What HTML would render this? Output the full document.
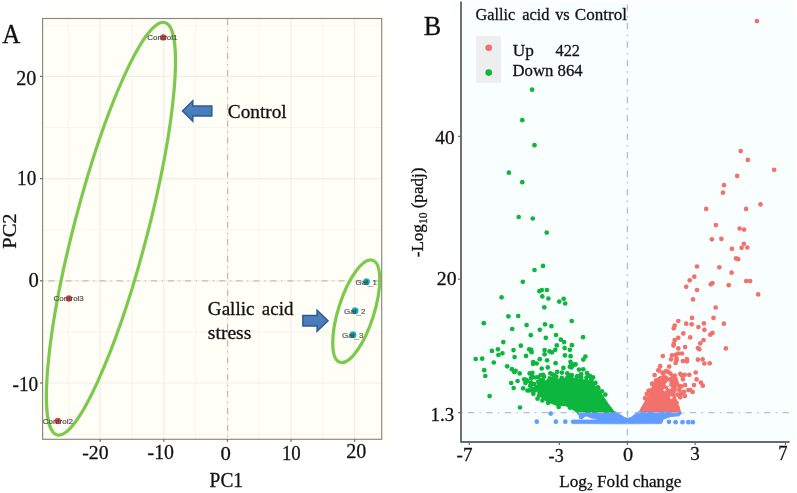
<!DOCTYPE html>
<html><head><meta charset="utf-8"><style>
html,body{margin:0;padding:0;background:#fff;width:797px;height:493px;overflow:hidden}
svg{display:block;filter:blur(0.3px)}
</style></head><body>
<svg width="797" height="493" viewBox="0 0 797 493">
<rect width="797" height="493" fill="#fff"/>
<rect x="35" y="11" width="354" height="436" fill="#FFFFFA"/>
<rect x="42.6" y="18.5" width="339.09999999999997" height="420.8" fill="#FFFEF7"/>
<line x1="68.40" y1="18.5" x2="68.40" y2="439.3" stroke="#F9F4EE" stroke-width="1"/>
<line x1="132.00" y1="18.5" x2="132.00" y2="439.3" stroke="#F9F4EE" stroke-width="1"/>
<line x1="195.60" y1="18.5" x2="195.60" y2="439.3" stroke="#F9F4EE" stroke-width="1"/>
<line x1="259.20" y1="18.5" x2="259.20" y2="439.3" stroke="#F9F4EE" stroke-width="1"/>
<line x1="322.80" y1="18.5" x2="322.80" y2="439.3" stroke="#F9F4EE" stroke-width="1"/>
<line x1="42.6" y1="25.30" x2="381.7" y2="25.30" stroke="#F9F4EE" stroke-width="1"/>
<line x1="42.6" y1="127.50" x2="381.7" y2="127.50" stroke="#F9F4EE" stroke-width="1"/>
<line x1="42.6" y1="229.70" x2="381.7" y2="229.70" stroke="#F9F4EE" stroke-width="1"/>
<line x1="42.6" y1="331.90" x2="381.7" y2="331.90" stroke="#F9F4EE" stroke-width="1"/>
<line x1="42.6" y1="434.10" x2="381.7" y2="434.10" stroke="#F9F4EE" stroke-width="1"/>
<line x1="100.20" y1="18.5" x2="100.20" y2="439.3" stroke="#F4EDE7" stroke-width="1.2"/>
<line x1="163.80" y1="18.5" x2="163.80" y2="439.3" stroke="#F4EDE7" stroke-width="1.2"/>
<line x1="227.40" y1="18.5" x2="227.40" y2="439.3" stroke="#F4EDE7" stroke-width="1.2"/>
<line x1="291.00" y1="18.5" x2="291.00" y2="439.3" stroke="#F4EDE7" stroke-width="1.2"/>
<line x1="354.60" y1="18.5" x2="354.60" y2="439.3" stroke="#F4EDE7" stroke-width="1.2"/>
<line x1="42.6" y1="76.40" x2="381.7" y2="76.40" stroke="#F4EDE7" stroke-width="1.2"/>
<line x1="42.6" y1="178.60" x2="381.7" y2="178.60" stroke="#F4EDE7" stroke-width="1.2"/>
<line x1="42.6" y1="280.80" x2="381.7" y2="280.80" stroke="#F4EDE7" stroke-width="1.2"/>
<line x1="42.6" y1="383.00" x2="381.7" y2="383.00" stroke="#F4EDE7" stroke-width="1.2"/>
<line x1="227.6" y1="18.5" x2="227.6" y2="439.3" stroke="#C4BDB7" stroke-width="1.3" stroke-dasharray="6 4.8 1.2 4.9" stroke-dashoffset="16.1"/>
<line x1="42.6" y1="280.80" x2="381.7" y2="280.80" stroke="#C4BDB7" stroke-width="1.3" stroke-dasharray="6.1 4.8 1.2 4.97" stroke-dashoffset="11.27"/>
<ellipse cx="110.95" cy="228.7" rx="36.64" ry="213.17" transform="rotate(14.65 110.95 228.7)" fill="none" stroke="#7DC94C" stroke-width="3.2"/>
<ellipse cx="356.23" cy="311.25" rx="17.76" ry="53.62" transform="rotate(17.71 356.23 311.25)" fill="none" stroke="#7DC94C" stroke-width="3.2"/>
<defs><radialGradient id="tg" cx="0.45" cy="0.55" r="0.6"><stop offset="0" stop-color="#0B7C83"/><stop offset="0.5" stop-color="#12A5AB"/><stop offset="1" stop-color="#1FC3C7"/></radialGradient></defs>
<circle cx="163.3" cy="37.4" r="3.2" fill="#E4484B"/>
<text x="162.4" y="40.3" text-anchor="middle" style="font-family:'Liberation Sans',sans-serif;font-size:8px" fill="#3C3C3C" stroke="#3C3C3C" stroke-width="0.2" opacity="0.9">Control1</text>
<circle cx="68.9" cy="298.5" r="3.2" fill="#E4484B"/>
<text x="68.7" y="301.4" text-anchor="middle" style="font-family:'Liberation Sans',sans-serif;font-size:8px" fill="#3C3C3C" stroke="#3C3C3C" stroke-width="0.2" opacity="0.9">Control3</text>
<circle cx="57.8" cy="420.9" r="3.2" fill="#E4484B"/>
<text x="57.8" y="423.79999999999995" text-anchor="middle" style="font-family:'Liberation Sans',sans-serif;font-size:8px" fill="#3C3C3C" stroke="#3C3C3C" stroke-width="0.2" opacity="0.9">Control2</text>
<circle cx="366.5" cy="281.8" r="3.5" fill="url(#tg)"/>
<text x="366.3" y="284.8" text-anchor="middle" style="font-family:'Liberation Sans',sans-serif;font-size:8px" fill="#4A4A4A" stroke="#4A4A4A" stroke-width="0.2" opacity="0.9">Gal_1</text>
<circle cx="355.05" cy="310.8" r="3.5" fill="url(#tg)"/>
<text x="354.8" y="313.8" text-anchor="middle" style="font-family:'Liberation Sans',sans-serif;font-size:8px" fill="#4A4A4A" stroke="#4A4A4A" stroke-width="0.2" opacity="0.9">Gal_2</text>
<circle cx="353" cy="334.8" r="3.5" fill="url(#tg)"/>
<text x="352.8" y="337.8" text-anchor="middle" style="font-family:'Liberation Sans',sans-serif;font-size:8px" fill="#4A4A4A" stroke="#4A4A4A" stroke-width="0.2" opacity="0.9">Gal_3</text>
<rect x="42.6" y="18.5" width="339.09999999999997" height="420.8" fill="none" stroke="#8A8580" stroke-width="1.15"/>
<line x1="100.20" y1="439.3" x2="100.20" y2="441.7" stroke="#6A6A6A" stroke-width="1.2"/>
<line x1="163.80" y1="439.3" x2="163.80" y2="441.7" stroke="#6A6A6A" stroke-width="1.2"/>
<line x1="227.40" y1="439.3" x2="227.40" y2="441.7" stroke="#6A6A6A" stroke-width="1.2"/>
<line x1="291.00" y1="439.3" x2="291.00" y2="441.7" stroke="#6A6A6A" stroke-width="1.2"/>
<line x1="354.60" y1="439.3" x2="354.60" y2="441.7" stroke="#6A6A6A" stroke-width="1.2"/>
<line x1="40.0" y1="76.40" x2="42.6" y2="76.40" stroke="#6A6A6A" stroke-width="1.2"/>
<line x1="40.0" y1="178.60" x2="42.6" y2="178.60" stroke="#6A6A6A" stroke-width="1.2"/>
<line x1="40.0" y1="280.80" x2="42.6" y2="280.80" stroke="#6A6A6A" stroke-width="1.2"/>
<line x1="40.0" y1="383.00" x2="42.6" y2="383.00" stroke="#6A6A6A" stroke-width="1.2"/>
<defs><linearGradient id="ag" x1="0" y1="0" x2="0" y2="1"><stop offset="0" stop-color="#4E84C2"/><stop offset="1" stop-color="#4677B4"/></linearGradient></defs>
<path d="M182.5,111.0 L192.8,100.8 L192.8,105.95 L211.8,105.95 L211.8,116.05 L192.8,116.05 L192.8,121.2 Z" fill="url(#ag)" stroke="#2C5A93" stroke-width="1.5"/>
<path d="M328,320.7 L317.1,310.2 L317.1,315.5 L302.9,315.5 L302.9,325.9 L317.1,325.9 L317.1,331.2 Z" fill="url(#ag)" stroke="#2C5A93" stroke-width="1.5"/>
<rect x="461.0" y="1.5" width="334.0" height="440.5" fill="#F9FEFF"/>
<polygon points="576.8,411.2 613.3,411.0 617.7,412.6 621.2,415.3 624.7,417.4 627.4,418.2 630.9,417.4 634.4,414.7 637.9,411.9 640.5,411.0 680.0,411.0 681.8,413.2 679.2,415.8 670.4,416.7 663.4,419.3 661.6,423.6 620.0,423.8 572.0,423.6 570.8,422.0 572.0,420.0 596.5,420.0 596.5,419.3 593.7,418.6 589.8,417.4 586.4,416.0 583.6,417.4 581.9,418.6 580.2,416.3 577.3,414.0" fill="#619CFF" stroke="#619CFF" stroke-width="0.8" stroke-linejoin="round"/>
<circle cx="550.7" cy="413.6" r="2.35" fill="#619CFF"/>
<circle cx="536.8" cy="421.7" r="2.35" fill="#619CFF"/>
<circle cx="555.9" cy="421.7" r="2.35" fill="#619CFF"/>
<circle cx="565.3" cy="421.7" r="2.35" fill="#619CFF"/>
<circle cx="669.0" cy="421.8" r="2.35" fill="#619CFF"/>
<circle cx="675.6" cy="422.2" r="2.35" fill="#619CFF"/>
<circle cx="682.5" cy="422.2" r="2.35" fill="#619CFF"/>
<circle cx="688.3" cy="422.2" r="2.35" fill="#619CFF"/>
<circle cx="692.8" cy="422.2" r="2.35" fill="#619CFF"/>
<circle cx="581.0" cy="417.0" r="2.35" fill="#619CFF"/>
<polygon points="538.5,384.5 546.0,381.0 553.8,380.0 562.0,378.8 568.5,378.3 578.3,379.2 588.1,380.8 594.6,385.7 601.1,393.8 607.7,403.6 612.6,410.1 613.7,411.8 576.7,411.8 571.8,408.5 565.3,405.3 557.1,405.3 548.9,402.0 542.0,397.5 538.0,393.0" fill="#0DB63C" stroke="#0DB63C" stroke-width="1.5" stroke-linejoin="round"/>
<circle cx="538.9" cy="383.0" r="2.35" fill="#0DB63C"/>
<circle cx="543.1" cy="380.9" r="2.35" fill="#0DB63C"/>
<circle cx="548.5" cy="381.0" r="2.35" fill="#0DB63C"/>
<circle cx="549.7" cy="378.4" r="2.35" fill="#0DB63C"/>
<circle cx="554.8" cy="379.6" r="2.35" fill="#0DB63C"/>
<circle cx="561.8" cy="377.9" r="2.35" fill="#0DB63C"/>
<circle cx="567.4" cy="377.4" r="2.35" fill="#0DB63C"/>
<circle cx="571.6" cy="378.6" r="2.35" fill="#0DB63C"/>
<circle cx="576.7" cy="376.9" r="2.35" fill="#0DB63C"/>
<circle cx="581.2" cy="377.8" r="2.35" fill="#0DB63C"/>
<circle cx="586.4" cy="380.8" r="2.35" fill="#0DB63C"/>
<circle cx="591.4" cy="381.6" r="2.35" fill="#0DB63C"/>
<circle cx="592.1" cy="384.3" r="2.35" fill="#0DB63C"/>
<circle cx="598.2" cy="388.6" r="2.35" fill="#0DB63C"/>
<circle cx="601.9" cy="391.3" r="2.35" fill="#0DB63C"/>
<circle cx="535.8" cy="389.8" r="2.35" fill="#0DB63C"/>
<circle cx="536.4" cy="387.0" r="2.35" fill="#0DB63C"/>
<circle cx="532.1" cy="89.7" r="2.35" fill="#0DB63C"/>
<circle cx="522.3" cy="120.2" r="2.35" fill="#0DB63C"/>
<circle cx="534.5" cy="145.2" r="2.35" fill="#0DB63C"/>
<circle cx="508.9" cy="172.7" r="2.35" fill="#0DB63C"/>
<circle cx="522.3" cy="182.2" r="2.35" fill="#0DB63C"/>
<circle cx="518.7" cy="217.0" r="2.35" fill="#0DB63C"/>
<circle cx="532.8" cy="218.5" r="2.35" fill="#0DB63C"/>
<circle cx="546.7" cy="232.6" r="2.35" fill="#0DB63C"/>
<circle cx="543.0" cy="265.9" r="2.35" fill="#0DB63C"/>
<circle cx="534.5" cy="270.0" r="2.35" fill="#0DB63C"/>
<circle cx="522.8" cy="281.8" r="2.35" fill="#0DB63C"/>
<circle cx="539.4" cy="291.2" r="2.35" fill="#0DB63C"/>
<circle cx="541.8" cy="290.0" r="2.35" fill="#0DB63C"/>
<circle cx="546.9" cy="290.0" r="2.35" fill="#0DB63C"/>
<circle cx="501.6" cy="297.3" r="2.35" fill="#0DB63C"/>
<circle cx="542.3" cy="296.4" r="2.35" fill="#0DB63C"/>
<circle cx="548.4" cy="298.5" r="2.35" fill="#0DB63C"/>
<circle cx="563.7" cy="298.8" r="2.35" fill="#0DB63C"/>
<circle cx="559.2" cy="301.6" r="2.35" fill="#0DB63C"/>
<circle cx="565.2" cy="303.5" r="2.35" fill="#0DB63C"/>
<circle cx="544.3" cy="307.3" r="2.35" fill="#0DB63C"/>
<circle cx="508.4" cy="316.3" r="2.35" fill="#0DB63C"/>
<circle cx="518.2" cy="316.0" r="2.35" fill="#0DB63C"/>
<circle cx="483.8" cy="323.2" r="2.35" fill="#0DB63C"/>
<circle cx="571.7" cy="321.0" r="2.35" fill="#0DB63C"/>
<circle cx="526.6" cy="325.1" r="2.35" fill="#0DB63C"/>
<circle cx="545.0" cy="324.3" r="2.35" fill="#0DB63C"/>
<circle cx="551.4" cy="326.2" r="2.35" fill="#0DB63C"/>
<circle cx="512.2" cy="329.0" r="2.35" fill="#0DB63C"/>
<circle cx="539.8" cy="329.8" r="2.35" fill="#0DB63C"/>
<circle cx="530.8" cy="335.2" r="2.35" fill="#0DB63C"/>
<circle cx="545.8" cy="337.8" r="2.35" fill="#0DB63C"/>
<circle cx="556.0" cy="335.0" r="2.35" fill="#0DB63C"/>
<circle cx="503.3" cy="342.1" r="2.35" fill="#0DB63C"/>
<circle cx="560.8" cy="339.7" r="2.35" fill="#0DB63C"/>
<circle cx="564.1" cy="342.1" r="2.35" fill="#0DB63C"/>
<circle cx="571.9" cy="345.2" r="2.35" fill="#0DB63C"/>
<circle cx="556.8" cy="345.4" r="2.35" fill="#0DB63C"/>
<circle cx="520.8" cy="345.7" r="2.35" fill="#0DB63C"/>
<circle cx="491.9" cy="350.9" r="2.35" fill="#0DB63C"/>
<circle cx="497.9" cy="349.3" r="2.35" fill="#0DB63C"/>
<circle cx="513.5" cy="350.1" r="2.35" fill="#0DB63C"/>
<circle cx="529.2" cy="349.4" r="2.35" fill="#0DB63C"/>
<circle cx="531.6" cy="352.2" r="2.35" fill="#0DB63C"/>
<circle cx="544.6" cy="350.1" r="2.35" fill="#0DB63C"/>
<circle cx="549.5" cy="351.4" r="2.35" fill="#0DB63C"/>
<circle cx="555.2" cy="349.8" r="2.35" fill="#0DB63C"/>
<circle cx="564.6" cy="348.1" r="2.35" fill="#0DB63C"/>
<circle cx="569.8" cy="349.8" r="2.35" fill="#0DB63C"/>
<circle cx="498.4" cy="355.0" r="2.35" fill="#0DB63C"/>
<circle cx="502.4" cy="353.3" r="2.35" fill="#0DB63C"/>
<circle cx="544.6" cy="354.3" r="2.35" fill="#0DB63C"/>
<circle cx="564.9" cy="355.4" r="2.35" fill="#0DB63C"/>
<circle cx="570.6" cy="356.2" r="2.35" fill="#0DB63C"/>
<circle cx="475.7" cy="359.0" r="2.35" fill="#0DB63C"/>
<circle cx="482.2" cy="358.7" r="2.35" fill="#0DB63C"/>
<circle cx="514.6" cy="357.1" r="2.35" fill="#0DB63C"/>
<circle cx="526.0" cy="355.9" r="2.35" fill="#0DB63C"/>
<circle cx="539.8" cy="359.2" r="2.35" fill="#0DB63C"/>
<circle cx="583.0" cy="337.2" r="2.35" fill="#0DB63C"/>
<circle cx="585.4" cy="356.5" r="2.35" fill="#0DB63C"/>
<circle cx="583.3" cy="359.6" r="2.35" fill="#0DB63C"/>
<circle cx="547.1" cy="360.3" r="2.35" fill="#0DB63C"/>
<circle cx="555.6" cy="363.2" r="2.35" fill="#0DB63C"/>
<circle cx="570.5" cy="361.8" r="2.35" fill="#0DB63C"/>
<circle cx="574.0" cy="364.6" r="2.35" fill="#0DB63C"/>
<circle cx="569.8" cy="366.7" r="2.35" fill="#0DB63C"/>
<circle cx="547.8" cy="367.4" r="2.35" fill="#0DB63C"/>
<circle cx="563.4" cy="367.9" r="2.35" fill="#0DB63C"/>
<circle cx="579.0" cy="369.6" r="2.35" fill="#0DB63C"/>
<circle cx="583.3" cy="369.3" r="2.35" fill="#0DB63C"/>
<circle cx="493.8" cy="362.5" r="2.35" fill="#0DB63C"/>
<circle cx="484.2" cy="370.2" r="2.35" fill="#0DB63C"/>
<circle cx="485.3" cy="376.0" r="2.35" fill="#0DB63C"/>
<circle cx="489.6" cy="396.1" r="2.35" fill="#0DB63C"/>
<circle cx="520.0" cy="407.5" r="2.35" fill="#0DB63C"/>
<circle cx="507.2" cy="366.3" r="2.35" fill="#0DB63C"/>
<circle cx="511.9" cy="369.2" r="2.35" fill="#0DB63C"/>
<circle cx="514.3" cy="372.0" r="2.35" fill="#0DB63C"/>
<circle cx="519.7" cy="373.4" r="2.35" fill="#0DB63C"/>
<circle cx="517.6" cy="381.0" r="2.35" fill="#0DB63C"/>
<circle cx="511.2" cy="383.0" r="2.35" fill="#0DB63C"/>
<circle cx="513.7" cy="388.0" r="2.35" fill="#0DB63C"/>
<circle cx="523.2" cy="388.3" r="2.35" fill="#0DB63C"/>
<circle cx="527.5" cy="390.5" r="2.35" fill="#0DB63C"/>
<circle cx="533.2" cy="362.1" r="2.35" fill="#0DB63C"/>
<circle cx="536.7" cy="363.5" r="2.35" fill="#0DB63C"/>
<circle cx="541.7" cy="368.5" r="2.35" fill="#0DB63C"/>
<circle cx="529.6" cy="373.4" r="2.35" fill="#0DB63C"/>
<circle cx="538.1" cy="377.0" r="2.35" fill="#0DB63C"/>
<circle cx="543.1" cy="374.8" r="2.35" fill="#0DB63C"/>
<circle cx="526.1" cy="379.8" r="2.35" fill="#0DB63C"/>
<circle cx="531.0" cy="382.7" r="2.35" fill="#0DB63C"/>
<circle cx="536.0" cy="388.3" r="2.35" fill="#0DB63C"/>
<circle cx="605.3" cy="394.6" r="2.35" fill="#0DB63C"/>
<circle cx="572.2" cy="366.0" r="2.35" fill="#0DB63C"/>
<circle cx="515.6" cy="370.8" r="2.35" fill="#0DB63C"/>
<circle cx="532.0" cy="376.3" r="2.35" fill="#0DB63C"/>
<circle cx="550.3" cy="373.3" r="2.35" fill="#0DB63C"/>
<circle cx="553.9" cy="375.1" r="2.35" fill="#0DB63C"/>
<circle cx="561.9" cy="372.6" r="2.35" fill="#0DB63C"/>
<circle cx="567.3" cy="373.3" r="2.35" fill="#0DB63C"/>
<circle cx="524.1" cy="379.3" r="2.35" fill="#0DB63C"/>
<circle cx="527.2" cy="381.2" r="2.35" fill="#0DB63C"/>
<circle cx="541.2" cy="380.0" r="2.35" fill="#0DB63C"/>
<circle cx="532.0" cy="384.2" r="2.35" fill="#0DB63C"/>
<circle cx="529.6" cy="390.3" r="2.35" fill="#0DB63C"/>
<circle cx="533.3" cy="391.5" r="2.35" fill="#0DB63C"/>
<circle cx="586.9" cy="373.1" r="2.35" fill="#0DB63C"/>
<circle cx="590.0" cy="376.2" r="2.35" fill="#0DB63C"/>
<circle cx="593.0" cy="377.4" r="2.35" fill="#0DB63C"/>
<circle cx="595.4" cy="382.9" r="2.35" fill="#0DB63C"/>
<circle cx="531.2" cy="349.8" r="2.35" fill="#0DB63C"/>
<circle cx="551.9" cy="352.3" r="2.35" fill="#0DB63C"/>
<circle cx="533.0" cy="363.8" r="2.35" fill="#0DB63C"/>
<circle cx="571.4" cy="364.4" r="2.35" fill="#0DB63C"/>
<circle cx="575.6" cy="364.4" r="2.35" fill="#0DB63C"/>
<circle cx="571.4" cy="367.5" r="2.35" fill="#0DB63C"/>
<circle cx="532.4" cy="372.9" r="2.35" fill="#0DB63C"/>
<circle cx="570.2" cy="375.4" r="2.35" fill="#0DB63C"/>
<circle cx="577.5" cy="376.0" r="2.35" fill="#0DB63C"/>
<circle cx="581.1" cy="374.2" r="2.35" fill="#0DB63C"/>
<circle cx="588.4" cy="375.4" r="2.35" fill="#0DB63C"/>
<circle cx="525.4" cy="382.9" r="2.35" fill="#0DB63C"/>
<circle cx="531.0" cy="378.3" r="2.35" fill="#0DB63C"/>
<circle cx="535.1" cy="377.5" r="2.35" fill="#0DB63C"/>
<circle cx="530.2" cy="385.7" r="2.35" fill="#0DB63C"/>
<circle cx="534.3" cy="384.0" r="2.35" fill="#0DB63C"/>
<circle cx="538.3" cy="381.6" r="2.35" fill="#0DB63C"/>
<circle cx="532.6" cy="388.9" r="2.35" fill="#0DB63C"/>
<circle cx="537.5" cy="388.9" r="2.35" fill="#0DB63C"/>
<circle cx="541.6" cy="387.3" r="2.35" fill="#0DB63C"/>
<circle cx="545.7" cy="385.7" r="2.35" fill="#0DB63C"/>
<circle cx="548.9" cy="382.4" r="2.35" fill="#0DB63C"/>
<circle cx="552.2" cy="379.2" r="2.35" fill="#0DB63C"/>
<circle cx="556.3" cy="376.7" r="2.35" fill="#0DB63C"/>
<circle cx="539.2" cy="395.5" r="2.35" fill="#0DB63C"/>
<circle cx="544.0" cy="393.8" r="2.35" fill="#0DB63C"/>
<circle cx="547.3" cy="397.1" r="2.35" fill="#0DB63C"/>
<circle cx="548.1" cy="402.8" r="2.35" fill="#0DB63C"/>
<circle cx="553.8" cy="398.7" r="2.35" fill="#0DB63C"/>
<circle cx="558.7" cy="406.9" r="2.35" fill="#0DB63C"/>
<circle cx="570.1" cy="407.7" r="2.35" fill="#0DB63C"/>
<circle cx="552.2" cy="374.3" r="2.35" fill="#0DB63C"/>
<circle cx="557.1" cy="371.8" r="2.35" fill="#0DB63C"/>
<circle cx="571.8" cy="375.1" r="2.35" fill="#0DB63C"/>
<circle cx="586.5" cy="377.5" r="2.35" fill="#0DB63C"/>
<circle cx="591.4" cy="379.2" r="2.35" fill="#0DB63C"/>
<circle cx="597.9" cy="387.3" r="2.35" fill="#0DB63C"/>
<circle cx="540.8" cy="375.1" r="2.35" fill="#0DB63C"/>
<circle cx="544.0" cy="376.7" r="2.35" fill="#0DB63C"/>
<circle cx="545.7" cy="390.6" r="2.35" fill="#0DB63C"/>
<circle cx="550.6" cy="388.9" r="2.35" fill="#0DB63C"/>
<circle cx="542.4" cy="400.4" r="2.35" fill="#0DB63C"/>
<circle cx="537.5" cy="398.7" r="2.35" fill="#0DB63C"/>
<circle cx="533.4" cy="393.8" r="2.35" fill="#0DB63C"/>
<polygon points="640.1,410.7 645.5,401.2 651.0,391.1 653.8,383.8 658.3,379.3 665.6,377.8 672.0,379.3 674.7,383.8 673.8,392.0 676.9,403.0 680.2,411.2" fill="#F2716B" stroke="#F2716B" stroke-width="1.5" stroke-linejoin="round"/>
<circle cx="645.1" cy="398.2" r="2.35" fill="#F2716B"/>
<circle cx="646.7" cy="394.0" r="2.35" fill="#F2716B"/>
<circle cx="648.5" cy="390.8" r="2.35" fill="#F2716B"/>
<circle cx="650.2" cy="390.7" r="2.35" fill="#F2716B"/>
<circle cx="652.3" cy="383.5" r="2.35" fill="#F2716B"/>
<circle cx="658.0" cy="379.9" r="2.35" fill="#F2716B"/>
<circle cx="660.0" cy="378.7" r="2.35" fill="#F2716B"/>
<circle cx="663.7" cy="376.9" r="2.35" fill="#F2716B"/>
<circle cx="665.7" cy="377.7" r="2.35" fill="#F2716B"/>
<circle cx="674.8" cy="379.4" r="2.35" fill="#F2716B"/>
<circle cx="674.4" cy="386.9" r="2.35" fill="#F2716B"/>
<circle cx="673.8" cy="391.2" r="2.35" fill="#F2716B"/>
<circle cx="756.9" cy="21.1" r="2.35" fill="#F2716B"/>
<circle cx="740.7" cy="151.1" r="2.35" fill="#F2716B"/>
<circle cx="747.8" cy="159.9" r="2.35" fill="#F2716B"/>
<circle cx="774.1" cy="169.8" r="2.35" fill="#F2716B"/>
<circle cx="737.2" cy="175.9" r="2.35" fill="#F2716B"/>
<circle cx="724.0" cy="185.2" r="2.35" fill="#F2716B"/>
<circle cx="723.0" cy="192.7" r="2.35" fill="#F2716B"/>
<circle cx="706.2" cy="208.9" r="2.35" fill="#F2716B"/>
<circle cx="746.1" cy="208.9" r="2.35" fill="#F2716B"/>
<circle cx="760.5" cy="204.4" r="2.35" fill="#F2716B"/>
<circle cx="715.9" cy="225.1" r="2.35" fill="#F2716B"/>
<circle cx="739.6" cy="228.5" r="2.35" fill="#F2716B"/>
<circle cx="744.1" cy="229.6" r="2.35" fill="#F2716B"/>
<circle cx="711.9" cy="239.3" r="2.35" fill="#F2716B"/>
<circle cx="721.4" cy="238.9" r="2.35" fill="#F2716B"/>
<circle cx="743.8" cy="243.8" r="2.35" fill="#F2716B"/>
<circle cx="741.6" cy="247.8" r="2.35" fill="#F2716B"/>
<circle cx="747.3" cy="247.5" r="2.35" fill="#F2716B"/>
<circle cx="731.9" cy="248.8" r="2.35" fill="#F2716B"/>
<circle cx="736.0" cy="258.4" r="2.35" fill="#F2716B"/>
<circle cx="738.1" cy="259.2" r="2.35" fill="#F2716B"/>
<circle cx="697.0" cy="266.5" r="2.35" fill="#F2716B"/>
<circle cx="719.3" cy="267.3" r="2.35" fill="#F2716B"/>
<circle cx="731.6" cy="272.7" r="2.35" fill="#F2716B"/>
<circle cx="694.3" cy="276.7" r="2.35" fill="#F2716B"/>
<circle cx="689.7" cy="280.3" r="2.35" fill="#F2716B"/>
<circle cx="686.2" cy="286.8" r="2.35" fill="#F2716B"/>
<circle cx="697.0" cy="290.0" r="2.35" fill="#F2716B"/>
<circle cx="710.8" cy="284.3" r="2.35" fill="#F2716B"/>
<circle cx="712.4" cy="283.2" r="2.35" fill="#F2716B"/>
<circle cx="728.7" cy="285.2" r="2.35" fill="#F2716B"/>
<circle cx="746.2" cy="281.1" r="2.35" fill="#F2716B"/>
<circle cx="750.1" cy="281.1" r="2.35" fill="#F2716B"/>
<circle cx="758.2" cy="294.4" r="2.35" fill="#F2716B"/>
<circle cx="693.0" cy="299.4" r="2.35" fill="#F2716B"/>
<circle cx="715.7" cy="307.5" r="2.35" fill="#F2716B"/>
<circle cx="678.3" cy="321.0" r="2.35" fill="#F2716B"/>
<circle cx="692.0" cy="317.9" r="2.35" fill="#F2716B"/>
<circle cx="713.5" cy="317.9" r="2.35" fill="#F2716B"/>
<circle cx="723.9" cy="323.7" r="2.35" fill="#F2716B"/>
<circle cx="686.2" cy="323.7" r="2.35" fill="#F2716B"/>
<circle cx="691.7" cy="324.3" r="2.35" fill="#F2716B"/>
<circle cx="703.9" cy="323.4" r="2.35" fill="#F2716B"/>
<circle cx="674.7" cy="325.6" r="2.35" fill="#F2716B"/>
<circle cx="673.8" cy="328.3" r="2.35" fill="#F2716B"/>
<circle cx="698.4" cy="327.0" r="2.35" fill="#F2716B"/>
<circle cx="704.4" cy="329.8" r="2.35" fill="#F2716B"/>
<circle cx="683.3" cy="333.4" r="2.35" fill="#F2716B"/>
<circle cx="710.3" cy="334.7" r="2.35" fill="#F2716B"/>
<circle cx="712.5" cy="332.9" r="2.35" fill="#F2716B"/>
<circle cx="690.2" cy="337.4" r="2.35" fill="#F2716B"/>
<circle cx="674.7" cy="340.2" r="2.35" fill="#F2716B"/>
<circle cx="678.3" cy="337.8" r="2.35" fill="#F2716B"/>
<circle cx="703.5" cy="340.2" r="2.35" fill="#F2716B"/>
<circle cx="673.8" cy="343.8" r="2.35" fill="#F2716B"/>
<circle cx="700.2" cy="343.3" r="2.35" fill="#F2716B"/>
<circle cx="725.8" cy="348.4" r="2.35" fill="#F2716B"/>
<circle cx="685.1" cy="347.1" r="2.35" fill="#F2716B"/>
<circle cx="678.3" cy="348.4" r="2.35" fill="#F2716B"/>
<circle cx="697.9" cy="348.0" r="2.35" fill="#F2716B"/>
<circle cx="699.3" cy="349.3" r="2.35" fill="#F2716B"/>
<circle cx="662.8" cy="356.0" r="2.35" fill="#F2716B"/>
<circle cx="672.0" cy="355.3" r="2.35" fill="#F2716B"/>
<circle cx="675.6" cy="354.8" r="2.35" fill="#F2716B"/>
<circle cx="678.3" cy="353.5" r="2.35" fill="#F2716B"/>
<circle cx="682.0" cy="353.5" r="2.35" fill="#F2716B"/>
<circle cx="671.0" cy="359.3" r="2.35" fill="#F2716B"/>
<circle cx="676.5" cy="360.2" r="2.35" fill="#F2716B"/>
<circle cx="682.9" cy="361.1" r="2.35" fill="#F2716B"/>
<circle cx="686.9" cy="359.0" r="2.35" fill="#F2716B"/>
<circle cx="697.9" cy="359.7" r="2.35" fill="#F2716B"/>
<circle cx="702.6" cy="359.3" r="2.35" fill="#F2716B"/>
<circle cx="704.4" cy="363.5" r="2.35" fill="#F2716B"/>
<circle cx="709.7" cy="363.3" r="2.35" fill="#F2716B"/>
<circle cx="675.6" cy="363.0" r="2.35" fill="#F2716B"/>
<circle cx="660.1" cy="366.2" r="2.35" fill="#F2716B"/>
<circle cx="669.2" cy="366.6" r="2.35" fill="#F2716B"/>
<circle cx="658.3" cy="370.3" r="2.35" fill="#F2716B"/>
<circle cx="682.0" cy="375.7" r="2.35" fill="#F2716B"/>
<circle cx="684.7" cy="374.8" r="2.35" fill="#F2716B"/>
<circle cx="689.3" cy="374.8" r="2.35" fill="#F2716B"/>
<circle cx="695.7" cy="372.5" r="2.35" fill="#F2716B"/>
<circle cx="696.6" cy="379.4" r="2.35" fill="#F2716B"/>
<circle cx="694.0" cy="385.1" r="2.35" fill="#F2716B"/>
<circle cx="700.9" cy="382.6" r="2.35" fill="#F2716B"/>
<circle cx="702.8" cy="385.7" r="2.35" fill="#F2716B"/>
<circle cx="690.2" cy="390.1" r="2.35" fill="#F2716B"/>
<circle cx="692.7" cy="392.0" r="2.35" fill="#F2716B"/>
<circle cx="673.5" cy="345.6" r="2.35" fill="#F2716B"/>
<circle cx="676.5" cy="358.4" r="2.35" fill="#F2716B"/>
<circle cx="686.9" cy="361.4" r="2.35" fill="#F2716B"/>
<circle cx="662.5" cy="373.0" r="2.35" fill="#F2716B"/>
<circle cx="666.2" cy="371.2" r="2.35" fill="#F2716B"/>
<circle cx="670.4" cy="373.6" r="2.35" fill="#F2716B"/>
<circle cx="685.0" cy="385.2" r="2.35" fill="#F2716B"/>
<circle cx="685.0" cy="396.1" r="2.35" fill="#F2716B"/>
<circle cx="680.2" cy="397.3" r="2.35" fill="#F2716B"/>
<circle cx="676.6" cy="382.7" r="2.35" fill="#F2716B"/>
<circle cx="681.1" cy="386.4" r="2.35" fill="#F2716B"/>
<circle cx="688.4" cy="390.0" r="2.35" fill="#F2716B"/>
<circle cx="683.9" cy="391.9" r="2.35" fill="#F2716B"/>
<circle cx="677.5" cy="394.6" r="2.35" fill="#F2716B"/>
<circle cx="676.6" cy="402.8" r="2.35" fill="#F2716B"/>
<circle cx="677.5" cy="407.4" r="2.35" fill="#F2716B"/>
<circle cx="670.2" cy="410.1" r="2.35" fill="#F2716B"/>
<circle cx="674.7" cy="375.6" r="2.35" fill="#F2716B"/>
<circle cx="661.1" cy="378.4" r="2.35" fill="#F2716B"/>
<circle cx="665.6" cy="378.4" r="2.35" fill="#F2716B"/>
<circle cx="670.2" cy="379.3" r="2.35" fill="#F2716B"/>
<circle cx="674.7" cy="380.2" r="2.35" fill="#F2716B"/>
<circle cx="654.7" cy="384.7" r="2.35" fill="#F2716B"/>
<circle cx="659.2" cy="382.9" r="2.35" fill="#F2716B"/>
<circle cx="663.8" cy="384.7" r="2.35" fill="#F2716B"/>
<circle cx="669.3" cy="384.7" r="2.35" fill="#F2716B"/>
<circle cx="673.8" cy="384.7" r="2.35" fill="#F2716B"/>
<circle cx="678.4" cy="385.7" r="2.35" fill="#F2716B"/>
<circle cx="651.9" cy="390.2" r="2.35" fill="#F2716B"/>
<circle cx="658.3" cy="389.3" r="2.35" fill="#F2716B"/>
<circle cx="662.0" cy="390.2" r="2.35" fill="#F2716B"/>
<circle cx="674.7" cy="389.3" r="2.35" fill="#F2716B"/>
<circle cx="679.3" cy="390.2" r="2.35" fill="#F2716B"/>
<circle cx="681.1" cy="393.9" r="2.35" fill="#F2716B"/>
<circle cx="673.8" cy="399.3" r="2.35" fill="#F2716B"/>
<circle cx="665.6" cy="382.0" r="2.35" fill="#F2716B"/>
<circle cx="656.5" cy="381.1" r="2.35" fill="#F2716B"/>
<circle cx="683.0" cy="379.3" r="2.35" fill="#F2716B"/>
<circle cx="680.2" cy="373.8" r="2.35" fill="#F2716B"/>
<circle cx="659.1" cy="370.4" r="2.35" fill="#F2716B"/>
<circle cx="663.7" cy="372.7" r="2.35" fill="#F2716B"/>
<circle cx="668.3" cy="371.9" r="2.35" fill="#F2716B"/>
<circle cx="672.8" cy="376.5" r="2.35" fill="#F2716B"/>
<circle cx="675.9" cy="379.5" r="2.35" fill="#F2716B"/>
<circle cx="654.6" cy="375.0" r="2.35" fill="#F2716B"/>
<circle cx="652.3" cy="384.1" r="2.35" fill="#F2716B"/>
<circle cx="656.1" cy="380.3" r="2.35" fill="#F2716B"/>
<circle cx="667.5" cy="384.3" r="1.9" fill="#FBFEFF" opacity="0.9"/>
<circle cx="669.6" cy="387.6" r="1.6" fill="#FBFEFF" opacity="0.9"/>
<circle cx="664.6" cy="390.0" r="1.3" fill="#FBFEFF" opacity="0.9"/>
<circle cx="671.3" cy="397.6" r="1.4" fill="#FBFEFF" opacity="0.9"/>
<circle cx="668.4" cy="382.6" r="1.3" fill="#FBFEFF" opacity="0.9"/>
<line x1="627.4" y1="1.5" x2="627.4" y2="442.0" stroke="#B2B8C8" stroke-width="1.4" stroke-dasharray="6.4 5.1 1.5 5.45" stroke-dashoffset="15.45" opacity="0.9"/>
<line x1="461.0" y1="412.6" x2="789.5" y2="412.6" stroke="#B2B8C8" stroke-width="1.4" stroke-dasharray="6.4 5.2 1.5 5.41" stroke-dashoffset="11.71" opacity="0.9"/>
<path d="M461.0,1.5 L461.0,442.0 L789.5,442.0" fill="none" stroke="#656974" stroke-width="1.9" stroke-linejoin="round"/>
<line x1="458.0" y1="136.40" x2="461.0" y2="136.40" stroke="#6A6E78" stroke-width="1.2"/>
<line x1="458.0" y1="279.20" x2="461.0" y2="279.20" stroke="#6A6E78" stroke-width="1.2"/>
<line x1="458.0" y1="412.72" x2="461.0" y2="412.72" stroke="#6A6E78" stroke-width="1.2"/>
<line x1="469.30" y1="442.0" x2="469.30" y2="445.0" stroke="#6A6E78" stroke-width="1.2"/>
<line x1="559.40" y1="442.0" x2="559.40" y2="445.0" stroke="#6A6E78" stroke-width="1.2"/>
<line x1="627.40" y1="442.0" x2="627.40" y2="445.0" stroke="#6A6E78" stroke-width="1.2"/>
<line x1="695.20" y1="442.0" x2="695.20" y2="445.0" stroke="#6A6E78" stroke-width="1.2"/>
<line x1="785.50" y1="442.0" x2="785.50" y2="445.0" stroke="#6A6E78" stroke-width="1.2"/>
<rect x="476" y="36.1" width="24.9" height="46.8" fill="#EEEEEE"/>
<circle cx="488.7" cy="47.7" r="3.3" fill="#F2716B"/>
<circle cx="488.7" cy="72.6" r="3.3" fill="#0DB63C"/>
<text transform="translate(2.15 43.40) scale(0.9833 1.0328)" style="font-family:'Liberation Serif',serif;font-size:25.5px" fill="#111" stroke="#111" stroke-width="0.28">A</text>
<text transform="translate(16.25 84.84) scale(1.0054 1.0370)" style="font-family:'Liberation Serif',serif;font-size:20px" fill="#111" stroke="#111" stroke-width="0.28">20</text>
<text transform="translate(17.12 184.54) scale(0.9600 1.0370)" style="font-family:'Liberation Serif',serif;font-size:20px" fill="#111" stroke="#111" stroke-width="0.28">10</text>
<text transform="translate(28.42 286.54) scale(1.0353 1.0222)" style="font-family:'Liberation Serif',serif;font-size:20px" fill="#111" stroke="#111" stroke-width="0.28">0</text>
<text transform="translate(12.48 390.54) scale(0.9663 1.0222)" style="font-family:'Liberation Serif',serif;font-size:20px" fill="#111" stroke="#111" stroke-width="0.28">-10</text>
<text transform="translate(82.26 458.56) scale(0.9861 0.9630)" style="font-family:'Liberation Serif',serif;font-size:20px" fill="#111" stroke="#111" stroke-width="0.28">-20</text>
<text transform="translate(147.55 458.85) scale(0.9941 1.0074)" style="font-family:'Liberation Serif',serif;font-size:20px" fill="#111" stroke="#111" stroke-width="0.28">-10</text>
<text transform="translate(220.52 459.55) scale(1.0353 0.9852)" style="font-family:'Liberation Serif',serif;font-size:20px" fill="#111" stroke="#111" stroke-width="0.28">0</text>
<text transform="translate(281.95 459.55) scale(0.9429 1.0000)" style="font-family:'Liberation Serif',serif;font-size:20px" fill="#111" stroke="#111" stroke-width="0.28">10</text>
<text transform="translate(346.15 457.65) scale(1.0054 1.0148)" style="font-family:'Liberation Serif',serif;font-size:20px" fill="#111" stroke="#111" stroke-width="0.28">20</text>
<text transform="translate(209.62 486.64) scale(0.9679 1.0222)" style="font-family:'Liberation Serif',serif;font-size:20px" fill="#111" stroke="#111" stroke-width="0.28">PC1</text>
<text transform="translate(15.66 248.71) rotate(-90) scale(1.0260 0.9556)" style="font-family:'Liberation Serif',serif;font-size:20px" fill="#111" stroke="#111" stroke-width="0.28">PC2</text>
<text transform="translate(227.76 118.06) scale(0.9897 0.9673)" style="font-family:'Liberation Serif',serif;font-size:19.5px" fill="#111" stroke="#111" stroke-width="0.28">Control</text>
<text transform="translate(207.85 315.46) scale(1.0044 0.9778)" style="font-family:'Liberation Serif',serif;font-size:19px" fill="#111" stroke="#111" stroke-width="0.28">Gallic</text>
<text transform="translate(261.85 315.26) scale(0.9984 0.9630)" style="font-family:'Liberation Serif',serif;font-size:19px" fill="#111" stroke="#111" stroke-width="0.28">acid</text>
<text transform="translate(207.83 339.24) scale(1.0300 1.0300)" style="font-family:'Liberation Serif',serif;font-size:19px" fill="#111" stroke="#111" stroke-width="0.28">stress</text>
<text transform="translate(423.63 34.70) scale(1.0267 1.0567)" style="font-family:'Liberation Serif',serif;font-size:25.5px" fill="#111" stroke="#111" stroke-width="0.28">B</text>
<text transform="translate(435.35 143.75) scale(0.9838 0.9811)" style="font-family:'Liberation Serif',serif;font-size:19.5px" fill="#111" stroke="#111" stroke-width="0.28">40</text>
<text transform="translate(436.84 284.55) scale(1.0111 1.0113)" style="font-family:'Liberation Serif',serif;font-size:19.5px" fill="#111" stroke="#111" stroke-width="0.28">20</text>
<text transform="translate(430.50 420.56) scale(0.9701 0.9736)" style="font-family:'Liberation Serif',serif;font-size:19.5px" fill="#111" stroke="#111" stroke-width="0.28">1.3</text>
<text transform="translate(456.56 460.90) scale(0.9800 1.0196)" style="font-family:'Liberation Serif',serif;font-size:19.5px" fill="#111" stroke="#111" stroke-width="0.28">-7</text>
<text transform="translate(548.60 461.55) scale(0.9288 0.9962)" style="font-family:'Liberation Serif',serif;font-size:19.5px" fill="#111" stroke="#111" stroke-width="0.28">-3</text>
<text transform="translate(623.12 460.56) scale(1.0424 0.9736)" style="font-family:'Liberation Serif',serif;font-size:19.5px" fill="#111" stroke="#111" stroke-width="0.28">0</text>
<text transform="translate(690.23 460.25) scale(0.9750 1.0113)" style="font-family:'Liberation Serif',serif;font-size:19.5px" fill="#111" stroke="#111" stroke-width="0.28">3</text>
<text transform="translate(778.21 460.30) scale(0.9500 1.0353)" style="font-family:'Liberation Serif',serif;font-size:19.5px" fill="#111" stroke="#111" stroke-width="0.28">7</text>
<text transform="translate(559.29 486.80) scale(1.0100 0.9613)" style="font-family:'Liberation Serif',serif;font-size:17px" fill="#111" stroke="#111" stroke-width="0.28">Log<tspan dy="3.5" font-size="11.5">2</tspan><tspan dy="-3.5"> Fold change</tspan></text>
<text transform="translate(423.43 257.30) rotate(-90) scale(1.0051 1.0065)" style="font-family:'Liberation Serif',serif;font-size:17px" fill="#111" stroke="#111" stroke-width="0.28">-Log<tspan dy="3.5" font-size="11.5">10</tspan><tspan dy="-3.5"> (padj)</tspan></text>
<text transform="translate(475.48 19.55) scale(0.9565 0.9917)" style="font-family:'Liberation Serif',serif;font-size:17px" fill="#111" stroke="#111" stroke-width="0.28">Gallic</text>
<text transform="translate(522.22 19.55) scale(0.9658 0.9917)" style="font-family:'Liberation Serif',serif;font-size:17px" fill="#111" stroke="#111" stroke-width="0.28">acid</text>
<text transform="translate(555.20 19.55) scale(0.9600 0.9920)" style="font-family:'Liberation Serif',serif;font-size:17px" fill="#111" stroke="#111" stroke-width="0.28">vs</text>
<text transform="translate(574.85 19.55) scale(1.0039 0.9917)" style="font-family:'Liberation Serif',serif;font-size:17px" fill="#111" stroke="#111" stroke-width="0.28">Control</text>
<text transform="translate(512.74 55.70) scale(1.0410 1.0276)" style="font-family:'Liberation Serif',serif;font-size:16.6px" fill="#111" stroke="#111" stroke-width="0.28">Up</text>
<text transform="translate(555.45 55.60) scale(0.9853 0.9727)" style="font-family:'Liberation Serif',serif;font-size:16.6px" fill="#111" stroke="#111" stroke-width="0.28">422</text>
<text transform="translate(512.50 76.15) scale(1.0080 0.9956)" style="font-family:'Liberation Serif',serif;font-size:16.6px" fill="#111" stroke="#111" stroke-width="0.28">Down 864</text>
</svg>
</body></html>
